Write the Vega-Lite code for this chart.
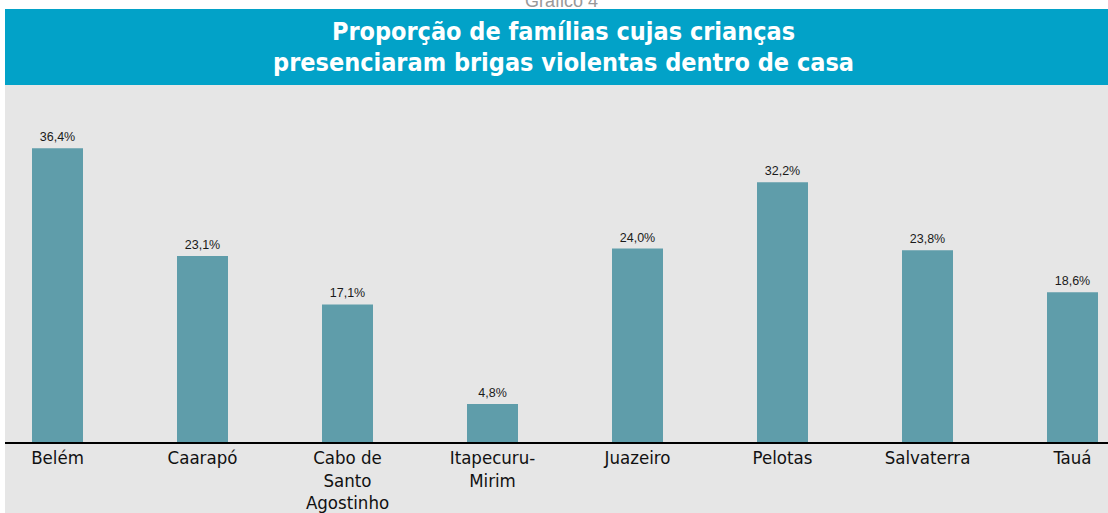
{
  "$schema": "https://vega.github.io/schema/vega-lite/v6.json",
  "autosize": "none",
  "padding": {"left": 5, "top": 9, "right": 0, "bottom": 0},
  "width": 1103,
  "height": 504,
  "background": "#ffffff",
  "title": {
    "text": "Gráfico 4",
    "fontSize": 18,
    "font": "Liberation Sans, Arial, sans-serif",
    "fontWeight": "normal",
    "color": "#999999",
    "baseline": "alphabetic",
    "offset": 0,
    "dy": 16,
    "dx": 5,
    "anchor": "middle"
  },
  "config": {
    "locale": {"number": {"decimal": ",", "thousands": ".", "grouping": [3], "currency": ["R$", ""]}}
  },
  "view": {
    "stroke": null,
    "fill": {
      "gradient": "linear", "x1": 0, "y1": 0, "x2": 0, "y2": 1,
      "stops": [
        {"offset": 0, "color": "#02A2C8"},
        {"offset": 0.1508, "color": "#02A2C8"},
        {"offset": 0.1508, "color": "#E6E6E6"},
        {"offset": 1, "color": "#E6E6E6"}
      ]
    }
  },
  "layer": [
    {
      "data": {"values": [
        {"linha": "Proporção de famílias cujas crianças"},
        {"linha": "presenciaram brigas violentas dentro de casa"}
      ]},
      "mark": {"type": "text", "font": "Liberation Sans Narrow, DejaVu Sans Condensed, sans-serif", "fontSize": 25, "fontWeight": "bold", "color": "#ffffff", "baseline": "middle", "align": "center", "dx": 7},
      "encoding": {
        "y": {"field": "linha", "type": "nominal", "sort": null, "axis": null, "scale": {"range": [23, 54], "padding": 0}},
        "text": {"field": "linha"}
      }
    },
    {
      "data": {"values": [
        {"municipio": "Belém", "valor": 0.364},
        {"municipio": "Caarapó", "valor": 0.231},
        {"municipio": "Cabo de\nSanto\nAgostinho", "valor": 0.171},
        {"municipio": "Itapecuru-\nMirim", "valor": 0.048},
        {"municipio": "Juazeiro", "valor": 0.240},
        {"municipio": "Pelotas", "valor": 0.322},
        {"municipio": "Salvaterra", "valor": 0.238},
        {"municipio": "Tauá", "valor": 0.186}
      ]},
      "encoding": {
        "x": {"field": "municipio", "type": "nominal", "sort": null, "axis": null,
              "scale": {"range": [-20, 1140], "paddingInner": 0, "paddingOuter": 0}}
      },
      "layer": [
        {
          "mark": {"type": "bar", "width": 51, "color": "#5F9DAA"},
          "encoding": {
            "y": {"field": "valor", "type": "quantitative", "axis": null,
                  "scale": {"domain": [0, 0.5358], "range": [434, 0], "nice": false, "zero": true}}
          }
        },
        {
          "mark": {"type": "text", "font": "Liberation Sans, Arial, sans-serif", "fontSize": 12.5, "color": "#1a1a1a", "baseline": "alphabetic", "dy": -7},
          "encoding": {
            "y": {"field": "valor", "type": "quantitative"},
            "text": {"field": "valor", "type": "quantitative", "format": ".1%"}
          }
        },
        {
          "mark": {"type": "rule", "color": "#000000", "strokeWidth": 1.5},
          "encoding": {"y": {"datum": 0, "type": "quantitative"}, "x": null}
        },
        {
          "mark": {"type": "text", "font": "Liberation Sans Narrow, DejaVu Sans Condensed, sans-serif", "fontSize": 18.5, "color": "#111111", "baseline": "top", "dy": 6, "lineBreak": "\n", "lineHeight": 22.5},
          "encoding": {
            "y": {"datum": 0, "type": "quantitative"},
            "text": {"field": "municipio"}
          }
        }
      ]
    }
  ],
  "resolve": {"scale": {"y": "independent", "x": "independent"}}
}
